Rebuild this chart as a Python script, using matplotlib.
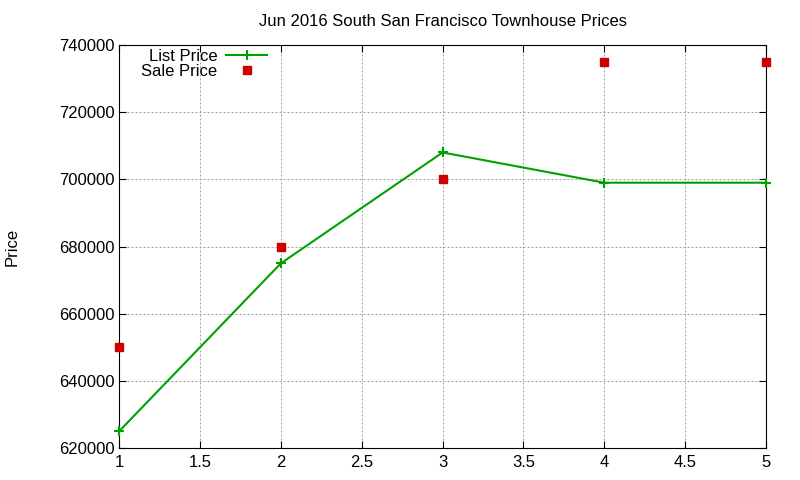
import matplotlib.pyplot as plt

plt.rcParams['font.family'] = ['Liberation Sans', 'DejaVu Sans']

months = [1, 2, 3, 4, 5]
list_price = [625000, 675000, 708000, 699000, 699000]
sale_price = [650000, 680000, 700000, 735000, 735000]

fig = plt.figure(figsize=(8, 4.8), dpi=100)
ax = fig.add_axes([0.149, 0.0667, 0.8085, 0.8395])

ax.plot(months, list_price, color="#00a000", linewidth=1.5, marker="+",
        markersize=7, markeredgewidth=1.5, label="List Price", clip_on=False, zorder=3)
ax.plot(months, sale_price, linestyle="none", marker="s", color="#cc0000",
        markersize=6, label="Sale Price", clip_on=False, zorder=3)

ax.set_xlim(1, 5)
ax.set_ylim(620000, 740000)
ax.set_xticks([1, 1.5, 2, 2.5, 3, 3.5, 4, 4.5, 5])
ax.set_xticklabels(["1", "1.5", "2", "2.5", "3", "3.5", "4", "4.5", "5"])
ax.set_yticks(range(620000, 740001, 20000))
ax.tick_params(direction="in", top=True, right=True, labelsize=12, length=5)
ax.tick_params(axis="x", pad=5)
ax.grid(True, linestyle=(0, (2, 2)), color="#a0a0a0", linewidth=0.72)

ax.set_title("Jun 2016 South San Francisco Townhouse Prices", fontsize=12, pad=14)
ax.set_ylabel("Price", fontsize=12, labelpad=28)

ax.legend(loc="upper left", bbox_to_anchor=(0.016, 1.02), markerfirst=False, frameon=False,
          fontsize=12, handlelength=2.5, labelspacing=0.0, borderaxespad=0.3, handletextpad=0.5)

fig.savefig("out.png", dpi=100)
